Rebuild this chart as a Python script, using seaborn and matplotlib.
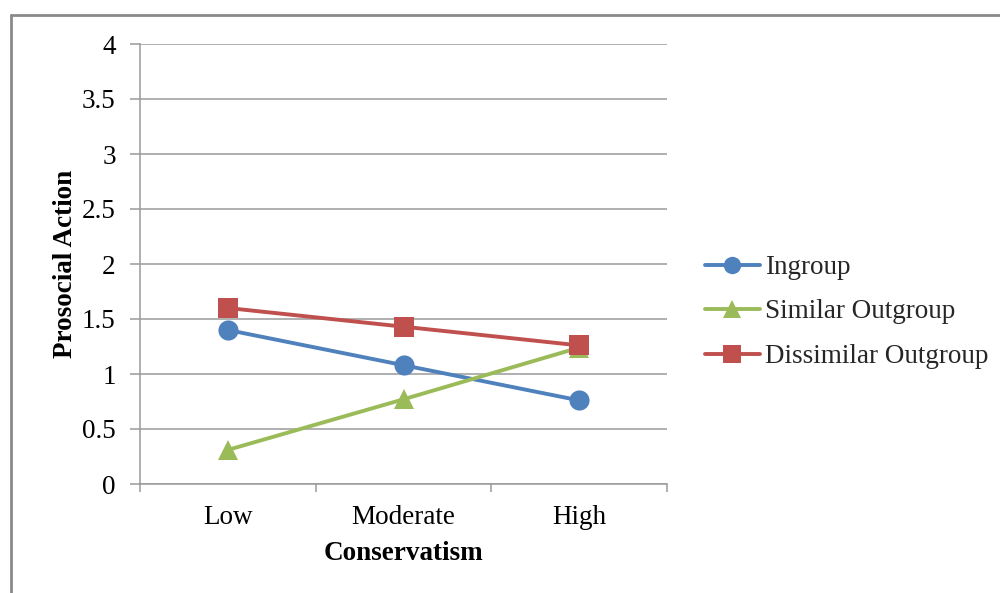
import matplotlib
matplotlib.use("Agg")
import matplotlib.pyplot as plt
from matplotlib.lines import Line2D
import seaborn as sns
import pandas as pd

# Prosocial action by level of conservatism, per target group
levels = ["Low", "Moderate", "High"]
groups = ["Ingroup", "Similar Outgroup", "Dissimilar Outgroup"]
ingroup = [1.40, 1.08, 0.76]
similar_outgroup = [0.31, 0.77, 1.24]
dissimilar_outgroup = [1.60, 1.43, 1.26]
y_ticks = [0, 0.5, 1, 1.5, 2, 2.5, 3, 3.5, 4]

df = pd.DataFrame({
    "Conservatism": levels * 3,
    "Group": [g for g in groups for _ in levels],
    "Prosocial Action": ingroup + similar_outgroup + dissimilar_outgroup,
})
df["pos"] = df["Conservatism"].map({lv: i for i, lv in enumerate(levels)})

sns.set_theme(style="white")
plt.rcParams["font.family"] = ["Liberation Serif", "DejaVu Serif"]

FS = 19.5
LW = 2.8
MS = 14.5

palette = {"Ingroup": "#4F81BD", "Similar Outgroup": "#9BBB59",
           "Dissimilar Outgroup": "#C0504D"}
markers = {"Ingroup": "o", "Similar Outgroup": "^", "Dissimilar Outgroup": "s"}

fig = plt.figure(figsize=(10, 5.93), dpi=100)
ax = fig.add_axes([0.14, 1 - 484 / 593, 0.527, 440 / 593])

sns.lineplot(data=df, x="pos", y="Prosocial Action", hue="Group", style="Group",
             hue_order=groups, style_order=groups, palette=palette,
             markers=markers, dashes=False, linewidth=LW, markersize=MS,
             markeredgewidth=0, ax=ax, legend=False)

ax.set_xlim(-0.5, 2.5)
ax.set_ylim(0, 4)
ax.set_yticks(y_ticks)
ax.set_yticklabels([f"{t:g}" for t in y_ticks])
ax.set_xticks(range(len(levels)))
ax.set_xticklabels(levels)
ax.set_xticks([-0.5, 0.5, 1.5, 2.5], minor=True)

grid_c = "#9a9a9a"
ax.grid(axis="y", color=grid_c, linewidth=1.1)
ax.set_axisbelow(True)
for s in ["top", "right"]:
    ax.spines[s].set_visible(False)
for s in ["left", "bottom"]:
    ax.spines[s].set_color(grid_c)
    ax.spines[s].set_linewidth(1.1)

ax.tick_params(axis="y", which="major", length=7, width=1.1, color=grid_c,
               direction="out", pad=10.5, labelsize=FS, left=True)
ax.tick_params(axis="x", which="major", length=0, pad=15, labelsize=FS)
ax.tick_params(axis="x", which="minor", length=6, width=1.1, color=grid_c,
               direction="out", bottom=True)
for lab in ax.get_xticklabels() + ax.get_yticklabels():
    lab.set_color("black")

ax.set_xlabel("Conservatism", fontsize=FS, fontweight="bold", color="black")
ax.set_ylabel("Prosocial Action", fontsize=FS, fontweight="bold", color="black")
ax.xaxis.set_label_coords(0.5, -0.13)
ax.yaxis.set_label_coords(-0.1175, 0.5)

handles = [Line2D([], [], color=palette[g], marker=markers[g], linewidth=LW,
                  markersize=MS - 2, markeredgewidth=0) for g in groups]
fig.legend(handles, groups, loc="center left", bbox_to_anchor=(0.705, 1 - 312 / 593),
           frameon=False, fontsize=FS, handlelength=2.03, handletextpad=0.18,
           labelspacing=0.72, borderpad=0, borderaxespad=0)

# Chart-area frame (top and left edges)
fig.add_artist(Line2D([0.0105, 1.0], [1 - 15 / 593, 1 - 15 / 593],
                      transform=fig.transFigure, color="#8a8a8a", linewidth=2))
fig.add_artist(Line2D([0.0105, 0.0105], [0.0, 1 - 15 / 593],
                      transform=fig.transFigure, color="#8a8a8a", linewidth=2))

fig.savefig("out.png", dpi=100)
